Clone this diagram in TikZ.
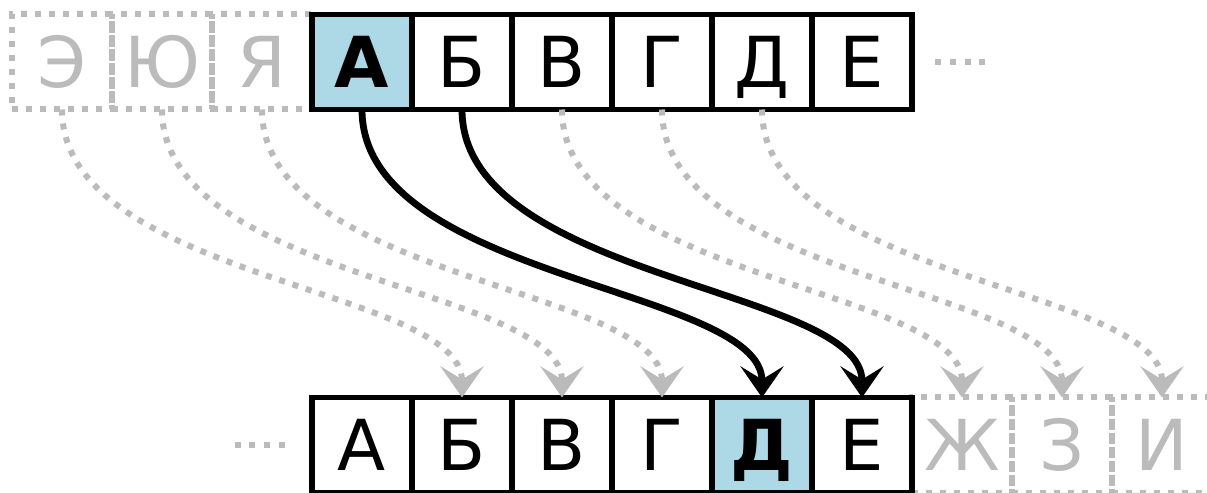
\documentclass[tikz,border=0pt]{standalone}
\usepackage{fontspec}
\setmainfont{DejaVu Sans}
\usetikzlibrary{arrows.meta,positioning,backgrounds}
\definecolor{CellBlue}{HTML}{ADD8E6}
\definecolor{GhostGrey}{HTML}{BBBBBB}
\tikzset{
  % Base cell
  CL/.style={rectangle,minimum width=2.5cm,minimum height=2.375cm,
             inner sep=0pt,outer sep=0pt,text height=1.28cm,text depth=0pt,
             font=\fontsize{50}{60}\selectfont},
  % Cell variants
  cW/.style={CL,draw,line width=0.14cm,fill=white},
  cB/.style={CL,draw,line width=0.14cm,fill=CellBlue,
             font=\fontsize{50}{60}\selectfont\bfseries},
  cG/.style={CL,draw=GhostGrey,text=GhostGrey,line width=0.15cm,
             dash pattern=on 0.15cm off 0.2cm},
  % Arrows
  arr/.style={-{Stealth[length=0.78cm,width=1.08cm,inset=0.33cm]},line width=0.17cm},
  garr/.style={arr,draw=GhostGrey,line width=0.15cm,dash pattern=on 0.15cm off 0.2cm},
  % Ellipsis
  ell/.style={draw=GhostGrey,line width=0.15cm,dash pattern=on 0.15cm off 0.22cm}
}

\begin{document}
\begin{tikzpicture}
  \useasboundingbox (0,0) rectangle (30.175,12.3);

  % plain alphabet
  \node[cB] (tA) at (9.05,10.75) {А};
  \node[cW,right=0pt of tA] (tB) {Б};
  \node[cW,right=0pt of tB] (tV) {В};
  \node[cW,right=0pt of tV] (tG) {Г};
  \node[cW,right=0pt of tG] (tD) {Д};
  \node[cW,right=0pt of tD] (tE) {Е};
  \begin{scope}[on background layer]
    \node[cG,left=0pt of tA]  (tYa) {Я};
    \node[cG,left=0pt of tYa] (tYu) {Ю};
    \node[cG,left=0pt of tYu] (tEh) {Э};
  \end{scope}

  % shifted alphabet
  \node[cW] (bA) at (9.05,1.175) {А};
  \node[cW,right=0pt of bA] (bB) {Б};
  \node[cW,right=0pt of bB] (bV) {В};
  \node[cW,right=0pt of bV] (bG) {Г};
  \node[cB,right=0pt of bG] (bD) {Д};
  \node[cW,right=0pt of bD] (bE) {Е};
  \begin{scope}[on background layer]
    \node[cG,right=0pt of bE]  (bZh) {Ж};
    \node[cG,right=0pt of bZh] (bZ)  {З};
    \node[cG,right=0pt of bZ]  (bI)  {И};
  \end{scope}

  \draw[ell] ([xshift=0.575cm]tE.east) -- ++(1.26cm,0);
  \draw[ell] ([xshift=-0.675cm]bA.west) -- ++(-1.26cm,0);

  \draw[garr] (tEh.south) .. controls +(0,-4.25) and +(0,2.75) .. (bB.north);
  \draw[garr] (tYu.south) .. controls +(0,-4.25) and +(0,2.75) .. (bV.north);
  \draw[garr] (tYa.south) .. controls +(0,-4.25) and +(0,2.75) .. (bG.north);
  \draw[garr] (tV.south)  .. controls +(0,-4.25) and +(0,2.75) .. (bZh.north);
  \draw[garr] (tG.south)  .. controls +(0,-4.25) and +(0,2.75) .. (bZ.north);
  \draw[garr] (tD.south)  .. controls +(0,-4.25) and +(0,2.75) .. (bI.north);
  \draw[arr] (tA.south) .. controls +(0,-4.25) and +(0,2.75) .. (bD.north);
  \draw[arr] (tB.south) .. controls +(0,-4.25) and +(0,2.75) .. (bE.north);
\end{tikzpicture}
\end{document}
